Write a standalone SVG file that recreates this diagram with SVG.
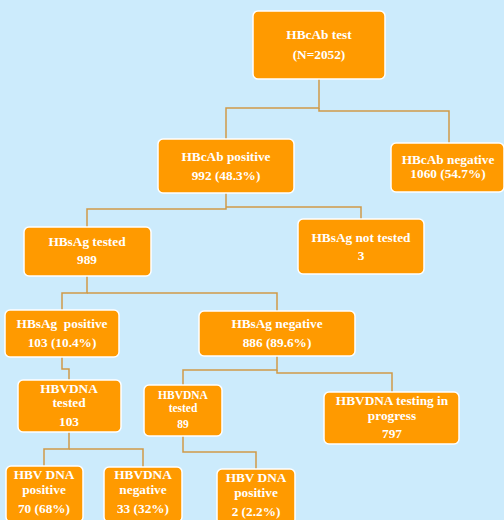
<svg xmlns="http://www.w3.org/2000/svg" width="504" height="520" viewBox="0 0 504 520">
<style>
.bg{fill:#CCEBFC}
.box{fill:#FF9A00;stroke:#FFFFFF;stroke-width:1.5}
.t{font-family:"Liberation Serif",serif;font-weight:bold;font-size:13.3px;fill:#FFFFFF;text-anchor:middle;white-space:pre}
.s{font-size:11.5px}
.c{fill:none;stroke:#CF9A48;stroke-width:1.5}
</style>
<rect class="bg" x="0" y="0" width="504" height="520"/>
<g id="connectors">
<path class="c" d="M319,79 V108 H226 V139"/>
<path class="c" d="M319,108 V111 H449 V143"/>
<path class="c" d="M226,193 V209 H87 V227"/>
<path class="c" d="M226,207 H361 V219"/>
<path class="c" d="M87,276 V293 H62 V310"/>
<path class="c" d="M87,293 H277 V311"/>
<path class="c" d="M62,357 V369 H69 V380"/>
<path class="c" d="M277,356 V370 H183 V385"/>
<path class="c" d="M277,370 V373 H392 V392"/>
<path class="c" d="M69,432 V449 H44 V466"/>
<path class="c" d="M69,449 H143 V467"/>
<path class="c" d="M183,436 V452 H256 V469"/>
</g>
<g id="hbcab-test">
<rect class="box" x="253" y="11" width="132" height="68" rx="5"/>
<text class="t" x="319" y="39">HBcAb test</text>
<text class="t" x="319" y="59">(N=2052)</text>
</g>
<g id="hbcab-positive">
<rect class="box" x="158" y="139" width="136" height="54" rx="5"/>
<text class="t" x="226" y="161">HBcAb positive</text>
<text class="t" x="226" y="180">992 (48.3%)</text>
</g>
<g id="hbcab-negative">
<rect class="box" x="391" y="143" width="113" height="49" rx="5"/>
<text class="t" x="448" y="164">HBcAb negative</text>
<text class="t" x="448" y="178">1060 (54.7%)</text>
</g>
<g id="hbsag-tested">
<rect class="box" x="24" y="227" width="127" height="49" rx="5"/>
<text class="t" x="87" y="246">HBsAg tested</text>
<text class="t" x="87" y="264">989</text>
</g>
<g id="hbsag-not-tested">
<rect class="box" x="298" y="219" width="126" height="55" rx="5"/>
<text class="t" x="361" y="242">HBsAg not tested</text>
<text class="t" x="361" y="260">3</text>
</g>
<g id="hbsag-positive">
<rect class="box" x="5" y="310" width="114" height="47" rx="5"/>
<text class="t" x="62" y="328">HBsAg  positive</text>
<text class="t" x="62" y="347">103 (10.4%)</text>
</g>
<g id="hbsag-negative">
<rect class="box" x="199" y="311" width="156" height="45" rx="5"/>
<text class="t" x="277" y="328">HBsAg negative</text>
<text class="t" x="277" y="347">886 (89.6%)</text>
</g>
<g id="hbvdna-tested-1">
<rect class="box" x="18" y="380" width="103" height="52" rx="5"/>
<text class="t" x="69" y="393">HBVDNA</text>
<text class="t" x="69" y="407">tested</text>
<text class="t" x="69" y="426">103</text>
</g>
<g id="hbvdna-tested-2">
<rect class="box" x="144" y="385" width="78" height="51" rx="5"/>
<text class="t s" x="183" y="399">HBVDNA</text>
<text class="t s" x="183" y="412">tested</text>
<text class="t s" x="183" y="428">89</text>
</g>
<g id="hbvdna-in-progress">
<rect class="box" x="324" y="392" width="135" height="52" rx="5"/>
<text class="t" x="392" y="405">HBVDNA testing in</text>
<text class="t" x="392" y="420">progress</text>
<text class="t" x="392" y="438">797</text>
</g>
<g id="hbvdna-positive-1">
<rect class="box" x="6" y="466" width="77" height="56" rx="5"/>
<text class="t" x="44" y="479">HBV DNA</text>
<text class="t" x="44" y="494">positive</text>
<text class="t" x="44" y="513">70 (68%)</text>
</g>
<g id="hbvdna-negative">
<rect class="box" x="104" y="467" width="78" height="55" rx="5"/>
<text class="t" x="143" y="479">HBVDNA</text>
<text class="t" x="143" y="494">negative</text>
<text class="t" x="143" y="513">33 (32%)</text>
</g>
<g id="hbvdna-positive-2">
<rect class="box" x="217" y="469" width="78" height="55" rx="5"/>
<text class="t" x="256" y="482">HBV DNA</text>
<text class="t" x="256" y="497">positive</text>
<text class="t" x="256" y="516">2 (2.2%)</text>
</g>
</svg>
